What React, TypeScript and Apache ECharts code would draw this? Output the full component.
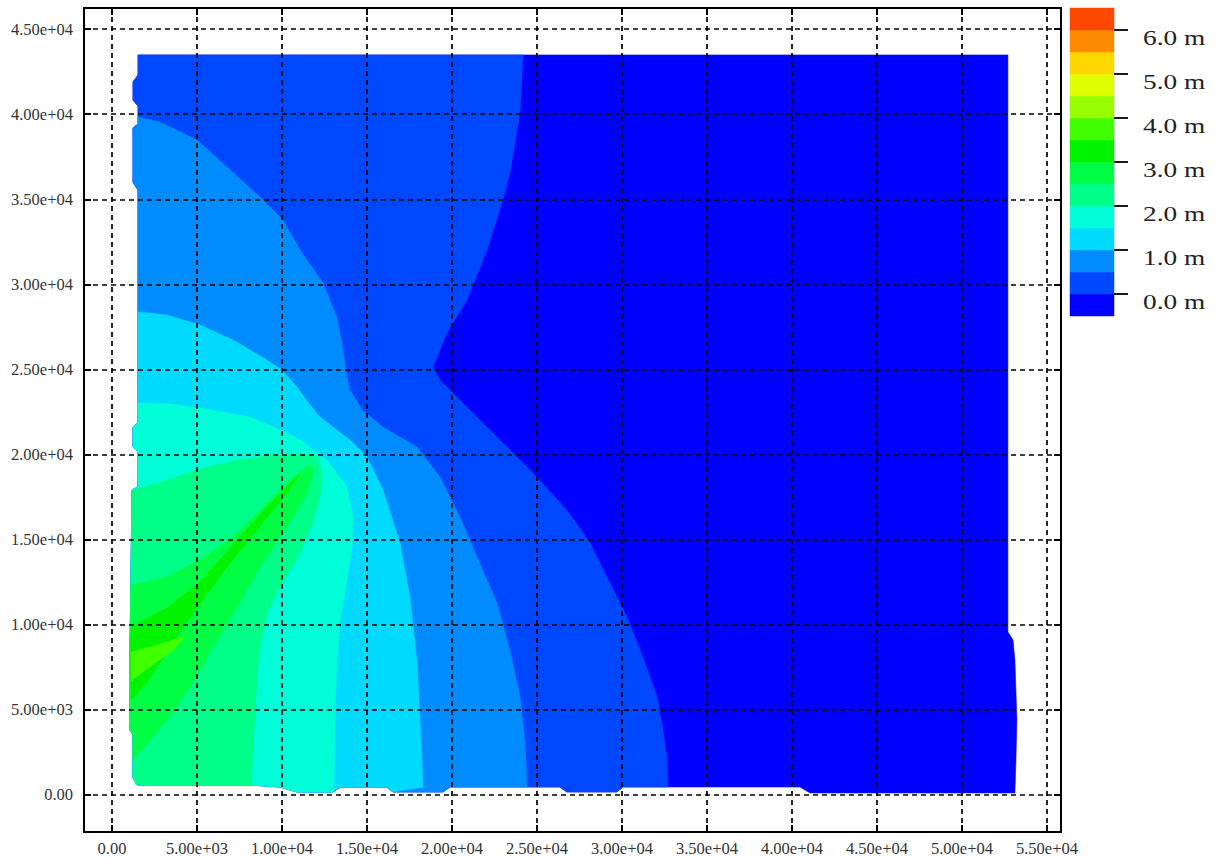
import React, { useEffect, useRef } from "react";
import * as echarts from "echarts";

type Pt = [number, number];

// ---- axis ticks ----
const xTickValues = [0, 5000, 10000, 15000, 20000, 25000, 30000, 35000, 40000, 45000, 50000, 55000];
const yTickValues = [0, 5000, 10000, 15000, 20000, 25000, 30000, 35000, 40000, 45000];
const legendTickValues = [0, 1, 2, 3, 4, 5, 6];

// ---- colour classes (below 0.0 m ... above 6.0 m) ----
const classBounds = [-0.5, 0, 0.5, 1, 1.5, 2, 2.5, 3, 3.5, 4, 4.5, 5, 5.5, 6, 6.5];
const classColors = [
  "#0000FF", "#0048FF", "#008CFF", "#00DAFF", "#00FFD8", "#00FF88", "#00FF44",
  "#00F400", "#40FF00", "#99FF00", "#DDFF00", "#FFD700", "#FF8C00", "#FF4800",
];

// ---- extent of the computed field (outline, counter-clockwise from top-left) ----
const domainOutline: Pt[] = [
  [1530, 43480], [1530, 42300], [1235, 41890], [1235, 40830], [1530, 40480], [1530, 39420],
  [1235, 39190], [1235, 36010], [1530, 35540], [1530, 21860], [1235, 21620], [1235, 20450],
  [1530, 20150], [1530, 18100], [1180, 17920], [1060, 8520], [1060, 3820], [1235, 3530],
  [1235, 1000], [1470, 590],
  [8120, 590], [9880, 470], [10880, 180], [13000, 180], [13410, 470], [16180, 470],
  [16530, 180], [19470, 180], [19880, 470], [26350, 470], [26760, 180], [29700, 180],
  [30060, 470], [40470, 470], [41060, 120], [53110, 120],
  [53170, 1940], [53230, 4410], [53110, 7930], [53000, 9110], [52700, 9580], [52700, 43480],
];

// ---- contour lines (level in m), each running from one edge of the field to another ----
const contour00: Pt[] = [
  [24180, 43480], [24000, 40070], [23410, 36540], [23000, 34960], [22060, 32020], [20880, 29080],
  [19700, 27140], [19120, 25730], [18880, 25150], [19290, 24380], [20880, 22800], [22820, 20860],
  [24760, 18920], [26760, 16740], [28120, 14810], [29290, 12460], [30290, 10460], [31230, 8110],
  [32060, 5760], [32410, 3820], [32650, 2060], [32700, 470],
];
const contour05: Pt[] = [
  [1530, 39830], [2820, 39540], [5000, 38480], [6760, 36900], [8710, 35130], [10060, 33780],
  [11060, 32020], [12410, 30080], [13230, 28080], [13590, 26140], [13820, 24560], [14000, 23790],
  [14710, 22620], [15940, 21620], [17940, 20450], [19290, 18680], [20470, 16330], [21470, 13980],
  [22650, 11280], [23410, 8520], [24000, 5760], [24290, 3230], [24410, 470],
];
const contour10: Pt[] = [
  [1530, 28380], [3240, 28200], [5180, 27610], [7120, 26730], [9120, 25560], [10000, 24970],
  [10880, 23970], [11650, 22910], [12230, 22210], [14000, 20860], [15000, 19860], [15940, 17920],
  [16940, 14810], [17530, 11630], [17940, 7760], [18120, 4410], [18290, 470],
];
const contour15: Pt[] = [
  [1530, 23030], [3410, 22970], [5180, 22740], [8120, 22210], [10290, 21270], [11060, 20860],
  [12650, 19680], [13820, 18100], [14180, 16330], [14120, 14570], [13820, 12630], [13410, 10280],
  [13230, 7930], [13120, 4820], [13060, 290],
];
const contour20: Pt[] = [
  [1290, 17920], [3240, 18510], [5180, 19150], [7120, 19620], [9120, 19920], [11060, 20030],
  [12060, 19860], [12350, 18800], [12230, 17510], [11820, 15980], [11060, 14220], [9880, 12220],
  [9120, 10690], [8710, 8700], [8530, 6760], [8410, 4820], [8290, 2640], [8180, 530],
];
const contour25: Pt[] = [
  [1120, 12340], [3240, 12810], [5180, 13810], [7120, 15160], [9120, 17160], [10650, 18680],
  [11650, 19390], [11880, 19090], [11470, 17740], [10290, 15750], [8710, 13400], [7590, 11460],
  [5760, 8340], [4590, 6350], [3240, 4410], [1235, 2060],
];
const contour30: Pt[] = [
  [1120, 9870], [3240, 10990], [5180, 12510], [7120, 14690], [9120, 16920], [10760, 18620],
  [11060, 18860], [10060, 17450], [8290, 15280], [6760, 13400], [5470, 11630], [4290, 9990],
  [3120, 8230], [1940, 6460], [1120, 5580],
];
const contour35: Pt[] = [
  [1120, 8400], [2240, 8700], [3410, 9050], [4350, 9340], [3530, 8450], [2530, 7760],
  [1650, 7100], [1120, 6700],
];

const contourLevels = [0, 0.5, 1, 1.5, 2, 2.5, 3, 3.5];
const contourLines = [contour00, contour05, contour10, contour15, contour20, contour25, contour30, contour35];

// ---- axis extents ----
const X_MIN = -1647;
const X_MAX = 55824;
const Y_MIN = -2174;
const Y_MAX = 46240;

function segDist(p: Pt, a: Pt, b: Pt): number {
  const dx = b[0] - a[0];
  const dy = b[1] - a[1];
  const len2 = dx * dx + dy * dy || 1;
  let t = ((p[0] - a[0]) * dx + (p[1] - a[1]) * dy) / len2;
  t = Math.max(0, Math.min(1, t));
  const qx = a[0] + t * dx - p[0];
  const qy = a[1] + t * dy - p[1];
  return Math.sqrt(qx * qx + qy * qy);
}

function nearestSegment(p: Pt): number {
  const n = domainOutline.length;
  let best = 0;
  let bestD = Infinity;
  for (let k = 0; k < n; k++) {
    const d = segDist(p, domainOutline[k], domainOutline[(k + 1) % n]);
    if (d < bestD) {
      bestD = d;
      best = k;
    }
  }
  return best;
}

// region where value >= level: contour line closed along the field outline (left / bottom side)
function superlevelPolygon(line: Pt[]): Pt[] {
  const n = domainOutline.length;
  const is = nearestSegment(line[0]);
  const ie = nearestSegment(line[line.length - 1]);
  const pts: Pt[] = line.slice();
  let k = ie;
  let guard = 0;
  while (k !== is && guard < n + 2) {
    pts.push(domainOutline[k]);
    k = (k - 1 + n) % n;
    guard++;
  }
  return pts;
}

function expLabel(v: number): string {
  if (v === 0) return "0.00";
  const [m, e] = v.toExponential(2).split("e");
  const sign = e[0];
  const digits = e.slice(1).padStart(2, "0");
  return `${m}e${sign}${digits}`;
}

const FONT = "Liberation Serif";

export default function App() {
  const ref = useRef<HTMLDivElement>(null);

  useEffect(() => {
    if (!ref.current) return;
    const chart = echarts.init(ref.current, undefined, { renderer: "svg" });

    const layerPolygons: Pt[][] = [domainOutline, ...contourLines.map(superlevelPolygon)];
    const layerColors: string[] = [
      classColors[0],
      ...contourLevels.map((lv) => classColors[classBounds.indexOf(lv)]),
    ];

    const frameLine = { show: true, onZero: false, lineStyle: { color: "#000", width: 2 } };
    const tickStyle = { color: "#000", width: 2 };
    const gridLine = { show: true, lineStyle: { color: "#000", width: 1.7, type: [5, 4] as any } };
    const labelStyle = { fontFamily: FONT, fontSize: 16.5, color: "#333" };

    const option: any = {
      animation: false,
      grid: [
        { left: 84, top: 8, width: 977, height: 824 },
        { left: 1070, top: 8, width: 44, height: 308 },
      ],
      xAxis: [
        {
          gridIndex: 0, type: "value", min: X_MIN, max: X_MAX, position: "bottom", z: 10,
          axisLine: frameLine,
          axisTick: { show: true, inside: true, length: 7, customValues: xTickValues, lineStyle: tickStyle },
          axisLabel: { ...labelStyle, customValues: xTickValues, formatter: (v: number) => expLabel(v), margin: 8 },
          splitLine: gridLine,
        },
        {
          gridIndex: 0, type: "value", min: X_MIN, max: X_MAX, position: "top", z: 10,
          axisLine: frameLine,
          axisTick: { show: true, inside: true, length: 7, customValues: xTickValues, lineStyle: tickStyle },
          axisLabel: { show: false },
          splitLine: { show: false },
        },
        { gridIndex: 1, type: "value", min: 0, max: 1, show: false },
      ],
      yAxis: [
        {
          gridIndex: 0, type: "value", min: Y_MIN, max: Y_MAX, position: "left", z: 10,
          axisLine: frameLine,
          axisTick: { show: true, inside: true, length: 7, customValues: yTickValues, lineStyle: tickStyle },
          axisLabel: { ...labelStyle, customValues: yTickValues, formatter: (v: number) => expLabel(v), margin: 11 },
          splitLine: gridLine,
        },
        {
          gridIndex: 0, type: "value", min: Y_MIN, max: Y_MAX, position: "right", z: 10,
          axisLine: frameLine,
          axisTick: { show: true, inside: true, length: 7, customValues: yTickValues, lineStyle: tickStyle },
          axisLabel: { show: false },
          splitLine: { show: false },
        },
        { gridIndex: 1, type: "value", min: classBounds[0], max: classBounds[classBounds.length - 1], show: false },
      ],
      series: [
        {
          type: "custom",
          name: "contours",
          xAxisIndex: 0,
          yAxisIndex: 0,
          silent: true,
          data: layerPolygons.map((_, i) => [i, 0]),
          renderItem: (params: any, api: any) => {
            const i = params.dataIndex;
            return {
              type: "polygon",
              shape: { points: layerPolygons[i].map((p) => api.coord(p)) },
              style: { fill: layerColors[i], stroke: layerColors[i], lineWidth: 0.6 },
            };
          },
        },
        {
          type: "custom",
          name: "colorbar",
          xAxisIndex: 2,
          yAxisIndex: 2,
          silent: true,
          data: classColors.map((_, i) => [0, classBounds[i], classBounds[i + 1]]),
          renderItem: (params: any, api: any) => {
            const i = params.dataIndex;
            const p0 = api.coord([0, api.value(1)]);
            const p1 = api.coord([1, api.value(2)]);
            return {
              type: "rect",
              shape: { x: p0[0], y: p1[1], width: p1[0] - p0[0], height: p0[1] - p1[1] },
              style: { fill: classColors[i], stroke: classColors[i], lineWidth: 0.5 },
            };
          },
        },
        {
          type: "custom",
          name: "colorbar-labels",
          xAxisIndex: 2,
          yAxisIndex: 2,
          silent: true,
          z: 5,
          data: legendTickValues.map((v) => [1, v]),
          renderItem: (params: any, api: any) => {
            const v = api.value(1);
            const p = api.coord([1, v]);
            return {
              type: "group",
              children: [
                {
                  type: "line",
                  shape: { x1: p[0], y1: p[1], x2: p[0] + 14, y2: p[1] },
                  style: { stroke: "#000", lineWidth: 1.8 },
                },
                {
                  type: "text",
                  x: p[0] + 29,
                  y: p[1] + 8,
                  scaleX: 1.3,
                  style: {
                    text: `${v.toFixed(1)} m`,
                    fontFamily: FONT,
                    fontSize: 21,
                    fill: "#222",
                    align: "left",
                    verticalAlign: "middle",
                  },
                },
              ],
            };
          },
        },
      ],
    };

    chart.setOption(option);
    return () => chart.dispose();
  }, []);

  return (
    <div
      ref={ref}
      style={{ position: "absolute", left: 0, top: 0, width: 1221, height: 858, background: "#fff" }}
    />
  );
}
